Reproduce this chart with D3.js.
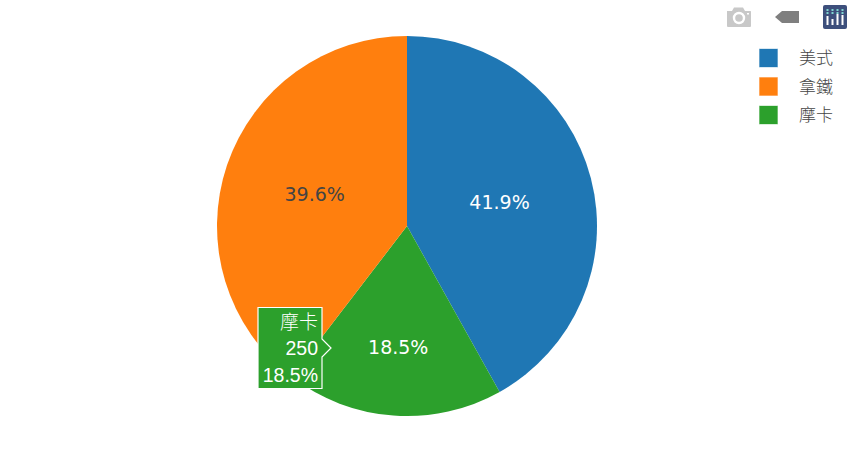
<!DOCTYPE html>
<html><head><meta charset="utf-8">
<script src="https://cdn.jsdelivr.net/npm/d3@7/dist/d3.min.js"></script>
<style>html,body{margin:0;padding:0;background:#fff;overflow:hidden}svg{display:block}</style>
</head><body><div id="c"></div>
<script>
const sliceOrder = ["美式", "摩卡", "拿鐵"];
const sliceValues = [566, 250, 535];
const sliceColors = ["#1f77b4", "#2ca02c", "#ff7f0e"];
const sliceTextColors = ["#fff", "#fff", "#444"];
const legendOrder = ["美式", "拿鐵", "摩卡"];
const hoverCategory = "摩卡";

const W = 853, H = 466, cx = 407, cy = 226, R = 190;
const cjk = '"Noto Sans CJK TC","Noto Sans CJK SC",sans-serif';
const svg = d3.select("#c").append("svg").attr("width", W).attr("height", H);

const color = d3.scaleOrdinal(sliceOrder, sliceColors);
const textColor = d3.scaleOrdinal(sliceOrder, sliceTextColors);
const labelRadius = d3.scaleOrdinal(sliceOrder, [95.6, 122, 97.5]);
const total = d3.sum(sliceValues);
const fmt = d3.format(".1%");
const pie = d3.pie().sort(null).value(d => d.value);
const rows = sliceOrder.map((name, i) => ({name, value: sliceValues[i]}));
const arcs = pie(rows);
const arc = d3.arc().innerRadius(0).outerRadius(R);

const g = svg.append("g").attr("transform", `translate(${cx},${cy})`);
g.selectAll("path").data(arcs).join("path")
  .attr("d", arc).attr("fill", d => color(d.data.name));

g.selectAll("text").data(arcs).join("text")
  .attr("transform", d => {
    const r = labelRadius(d.data.name);
    const [x, y] = d3.arc().innerRadius(r).outerRadius(r).centroid(d);
    return `translate(${x},${y})`;
  })
  .attr("text-anchor", "middle").attr("dy", "0.35em")
  .attr("font-family", '"DejaVu Sans",Verdana,sans-serif').attr("font-size", 19)
  .attr("fill", d => textColor(d.data.name))
  .text(d => fmt(d.value / total));

// legend
const legendY = d3.scalePoint(legendOrder, [58, 115]);
const lg = svg.append("g");
legendOrder.forEach(name => {
  const y = legendY(name);
  lg.append("rect").attr("x", 759.5).attr("y", y - 9).attr("width", 18).attr("height", 18)
    .attr("fill", color(name)).attr("stroke", color(name)).attr("stroke-opacity", 0.35).attr("stroke-width", 1);
  lg.append("text").attr("x", 799).attr("y", y).attr("dy", "0.36em")
    .attr("font-family", cjk).attr("font-size", 17).attr("font-weight", 300).attr("fill", "#444").text(name);
});

// hover tooltip
const hi = sliceOrder.indexOf(hoverCategory);
const tip = svg.append("g");
tip.append("path")
  .attr("d", "M258,307.5H322V339L331,348L322,357V388.5H258Z")
  .attr("fill", color(hoverCategory)).attr("stroke", "#fff").attr("stroke-width", 1.2);
const tipLines = [hoverCategory, String(sliceValues[hi]), fmt(sliceValues[hi] / total)];
const tipY = d3.scalePoint(d3.range(tipLines.length), [322, 375]);
tipLines.forEach((t, i) => {
  tip.append("text").attr("x", 318).attr("y", tipY(i)).attr("dy", "0.35em")
    .attr("text-anchor", "end").attr("fill", "#fff").attr("font-size", i === 0 ? 19 : 19.5)
    .attr("font-weight", i === 0 ? 300 : 400)
    .attr("font-family", i === 0 ? cjk : '"Liberation Sans",Arial,sans-serif').text(t);
});

// mode bar icons
const mb = svg.append("g");
// camera
mb.append("path")
  .attr("d", "M727,11H732L734,7.500H743L745,11H750.500Q751,11 751,12V26Q751,27 750,27H728Q727,27 727,26Z")
  .attr("fill", "#c8c8c8");
mb.append("circle").attr("cx", 739).attr("cy", 18).attr("r", 5).attr("fill", "none").attr("stroke", "#fff").attr("stroke-width", 2.4);
mb.append("rect").attr("x", 747).attr("y", 13).attr("width", 2).attr("height", 1.5).attr("fill", "#fff");
// tag
mb.append("path").attr("d", "M775,17L782,11H799V23H782Z").attr("fill", "#7f7f7f");
// logo
mb.append("rect").attr("x", 823).attr("y", 5).attr("width", 24).attr("height", 24).attr("rx", 2).attr("fill", "#3d4f7c");
[[826.5, 9],[831.5, 6],[836.5, 11],[841.5, 10]].forEach(([x, h]) => {
  mb.append("rect").attr("x", x).attr("y", 25 - h).attr("width", 2).attr("height", h).attr("fill", "#fff");
});
[826.5, 831.5, 836.5, 841.5].forEach(x => {
  [9, 12].forEach(y => mb.append("rect").attr("x", x).attr("y", y).attr("width", 2).attr("height", 2).attr("fill", "#7fd6d0"));
});
</script></body></html>
